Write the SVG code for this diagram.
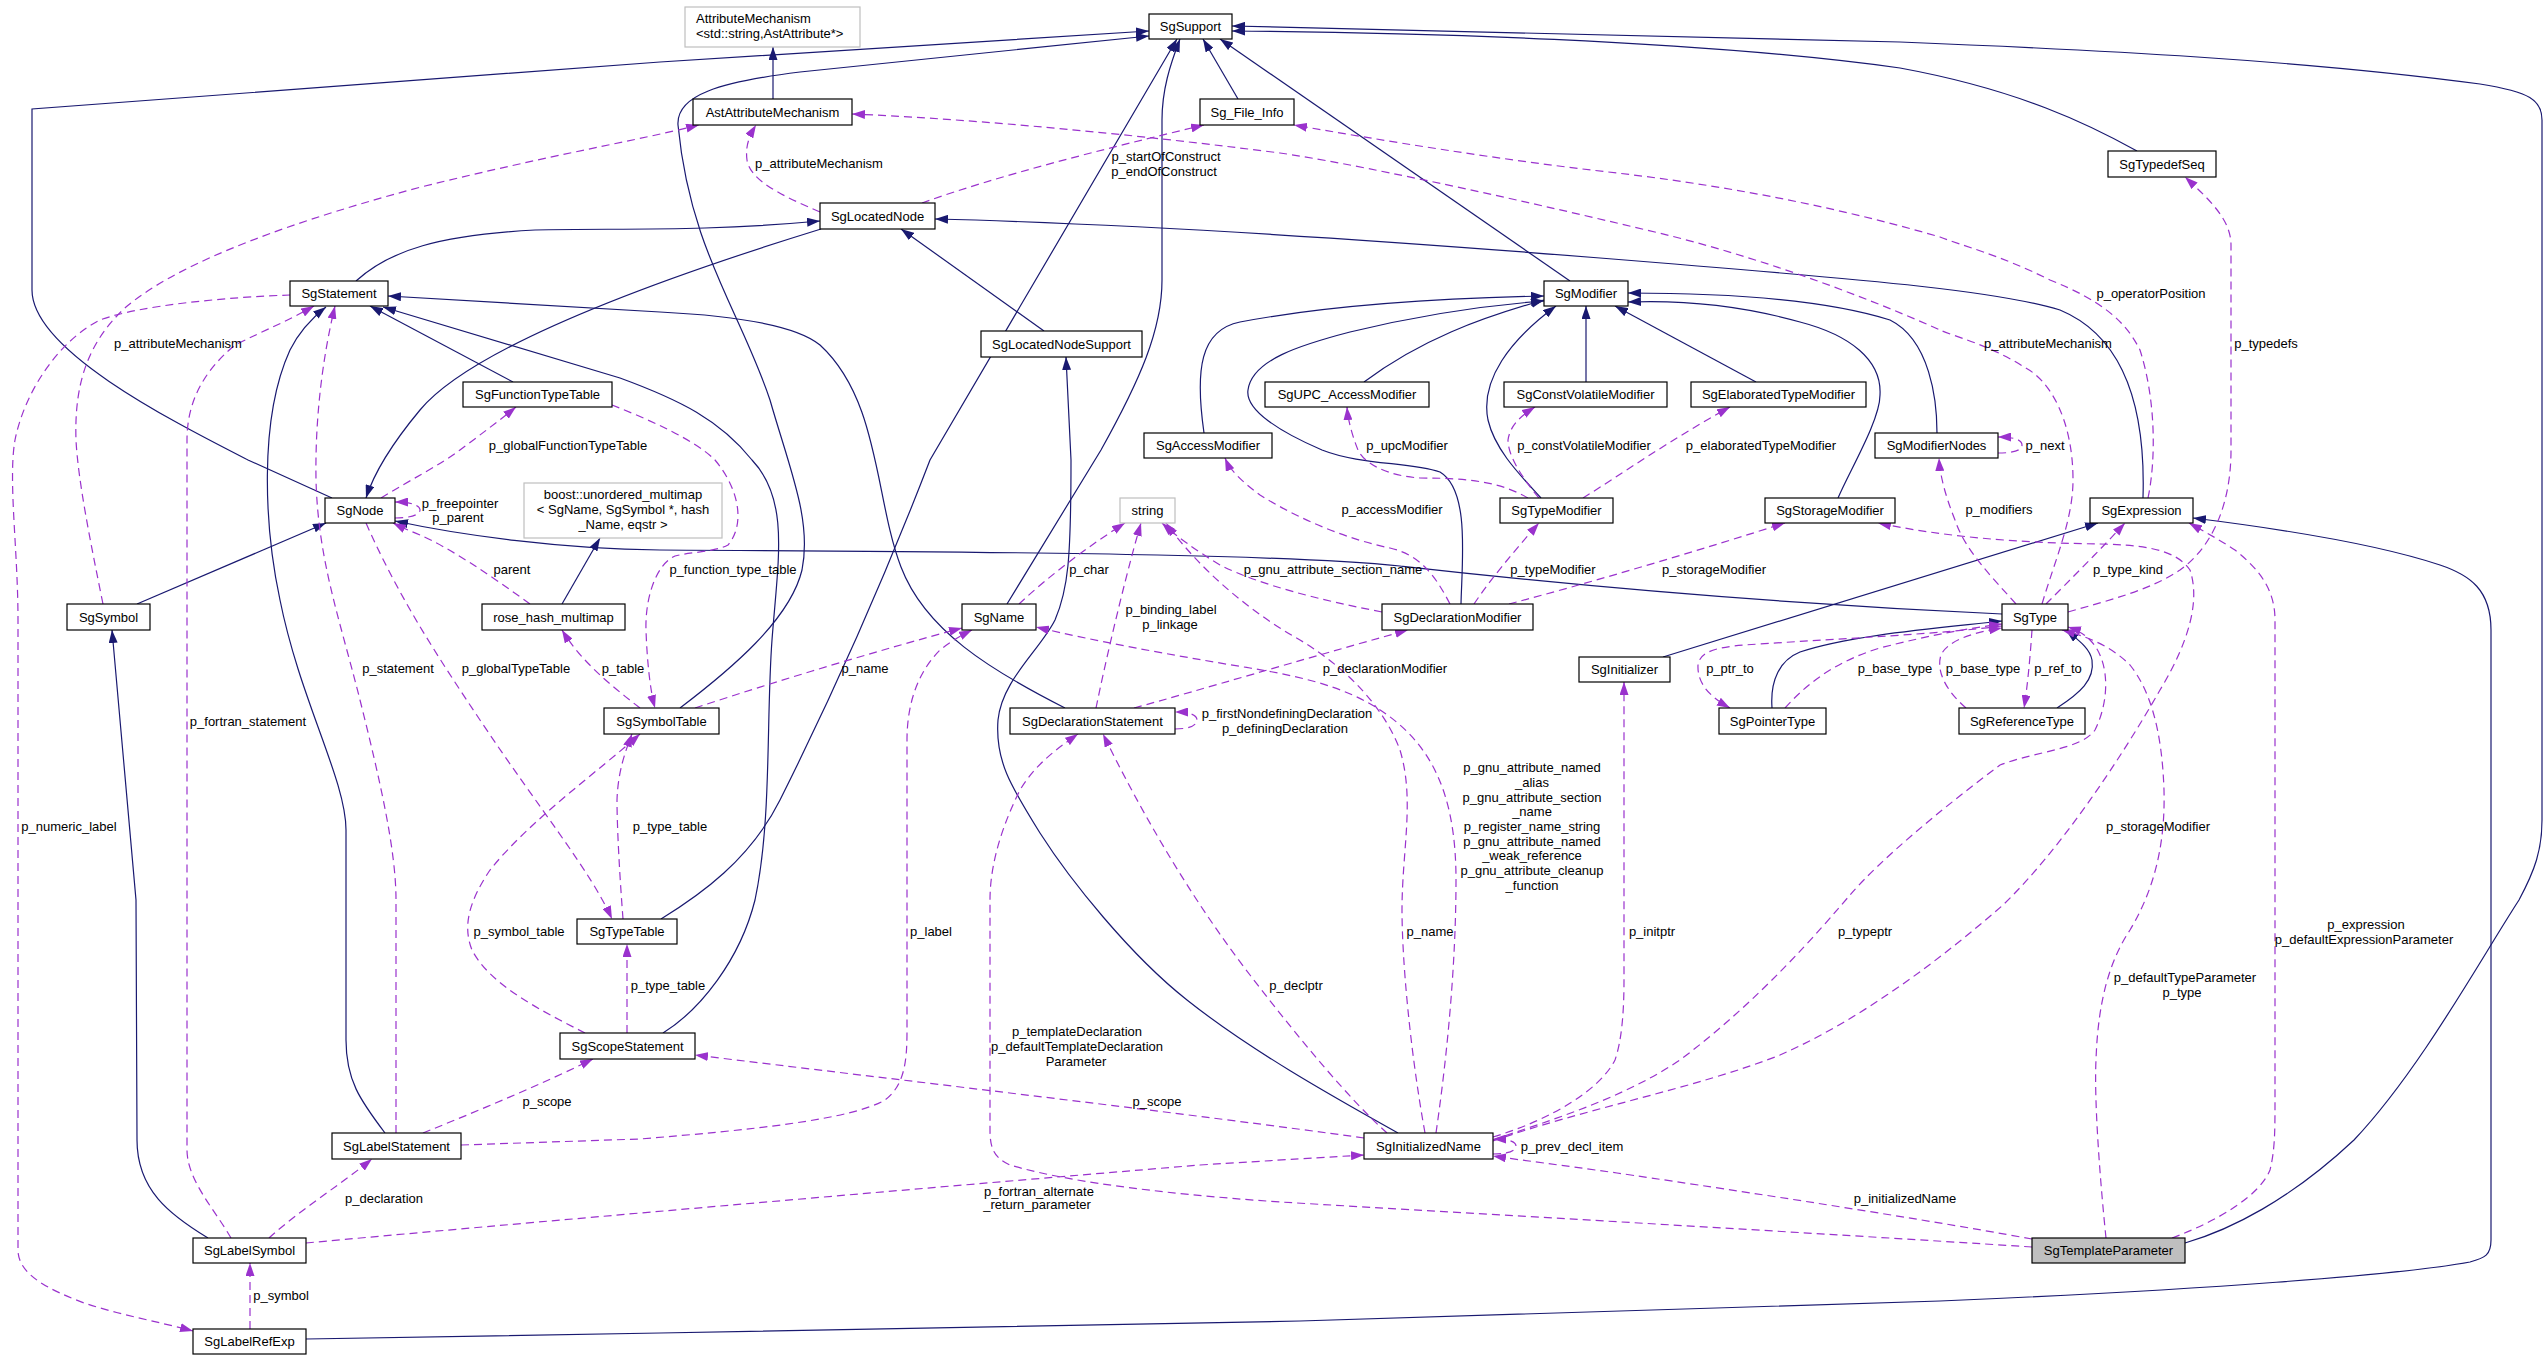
<svg xmlns="http://www.w3.org/2000/svg" width="2547" height="1360" viewBox="0 0 2547 1360">
<style>
text{font-family:"Liberation Sans",Arial,Helvetica,sans-serif;font-size:13px;fill:#000}
.node rect{fill:#fff;stroke:#000;stroke-width:1.2}
.node.ext rect{stroke:#bfbfbf}
.node.cur rect{fill:#bfbfbf}
.node text{text-anchor:middle}
.s{fill:none;stroke:#191970;stroke-width:1.2;marker-end:url(#ab)}
.s0{fill:none;stroke:#191970;stroke-width:1.2}
.d{fill:none;stroke:#9a32cd;stroke-width:1.2;stroke-dasharray:8,5;marker-end:url(#ap)}
.lb text{text-anchor:middle}
</style>
<defs>
<marker id="ab" viewBox="0 0 13 9" refX="13" refY="4.5" markerWidth="13" markerHeight="9" markerUnits="userSpaceOnUse" orient="auto"><path d="M0,0 L13,4.5 L0,9 Z" fill="#191970"/></marker>
<marker id="ap" viewBox="0 0 13 9" refX="13" refY="4.5" markerWidth="13" markerHeight="9" markerUnits="userSpaceOnUse" orient="auto"><path d="M0,0 L13,4.5 L0,9 Z" fill="#9a32cd"/></marker>
</defs>
<rect width="2547" height="1360" fill="#fff"/>
<g id="edges">
<!-- inheritance (solid) -->
<path class="s" d="M332,498 L248,460 C170,420 32,350 32,290 L32,109 L660,62 L1149,31"/>
<path class="s" d="M821,229 C640,285 470,350 420,410 C395,440 375,470 366,498"/>
<path class="s" d="M137,604 L326,523"/>
<path class="s" d="M2002,614 C1700,600 1480,575 1400,566 C1300,556 1100,552 660,550 C560,549 460,535 395,521"/>
<path class="s" d="M356,281 C390,250 440,235 535,230 C620,228 700,232 820,221"/>
<path class="s" d="M2143,498 C2146,400 2120,335 2060,310 C2000,292 1900,282 1600,258 C1300,234 1100,223 935,219"/>
<path class="s" d="M1044,331 L901,229"/>
<path class="s" d="M1398,1133 C1330,1095 1250,1050 1187,1000 C1130,955 1070,880 1040,833 C1010,785 995,760 998,720 C1002,680 1040,650 1055,620 C1068,590 1071,560 1071,460 L1066,357"/>
<path class="s" d="M1065,708 C990,670 925,630 901,567 C875,500 880,400 820,345 C790,320 700,314 660,312 L388,296"/>
<path class="s" d="M663,1033 C700,1010 740,960 755,900 C772,820 766,720 772,640 C778,560 790,500 752,460 C720,420 680,400 620,378 L383,307"/>
<path class="s" d="M513,382 L370,306"/>
<path class="s" d="M385,1133 C360,1100 346,1080 346,1040 L346,830 C346,780 300,700 280,600 C265,530 258,420 290,350 C300,330 312,318 326,307"/>
<path class="s" d="M208,1238 C170,1215 137,1190 137,1140 L136,900 L112,630"/>
<path class="s" d="M773,99 L773,47"/>
<path class="s" d="M680,708 C730,670 790,620 802,570 C812,520 790,470 770,400 C740,310 690,250 678,125 C676,95 720,82 800,72 L1149,36"/>
<path class="s" d="M661,919 C700,895 750,860 780,800 C830,700 880,590 930,460 L1177,39"/>
<path class="s" d="M1007,604 L1101,450 C1140,380 1162,330 1162,280 L1162,120 C1162,90 1170,65 1180,39"/>
<path class="s" d="M1238,99 L1203,39"/>
<path class="s" d="M1570,281 L1220,39"/>
<path class="s" d="M2185,1243 C2230,1230 2290,1200 2354,1140 C2420,1070 2480,960 2519,900 C2535,870 2542,850 2542,820 L2542,120 C2542,100 2530,92 2480,84 C2300,60 2100,50 1900,42 L1232,26"/>
<path class="s" d="M2137,151 C2090,125 2020,90 1900,68 C1700,40 1400,32 1232,31"/>
<path class="s" d="M1204,433 C1195,370 1200,330 1240,322 C1330,305 1450,298 1544,296"/>
<path class="s" d="M1364,382 C1420,340 1480,318 1544,300"/>
<path class="s" d="M1461,604 C1462,560 1470,490 1440,472 C1410,462 1360,465 1322,450 C1280,432 1245,410 1248,390 C1252,360 1300,345 1350,332 C1420,315 1490,305 1544,301"/>
<path class="s" d="M1541,498 C1520,475 1495,450 1488,420 C1480,380 1510,340 1556,306"/>
<path class="s" d="M1586,382 L1586,306"/>
<path class="s" d="M1756,382 L1615,306"/>
<path class="s" d="M1838,498 C1850,470 1880,420 1880,395 C1882,360 1850,335 1800,322 C1740,305 1680,300 1628,302"/>
<path class="s" d="M1937,433 C1937,400 1930,340 1890,320 C1820,298 1720,293 1628,293"/>
<path class="s" d="M1663,657 L2098,523"/>
<path class="s" d="M1772,708 C1770,680 1780,660 1800,652 C1850,635 1940,628 2002,621"/>
<path class="s" d="M2057,708 C2080,693 2095,680 2092,660 C2090,648 2078,640 2066,630"/>
<path class="s" d="M306,1339 L660,1333 L1300,1321 L1940,1301 C2200,1290 2400,1275 2470,1262 C2485,1258 2491,1255 2491,1240 L2491,630 C2491,590 2470,575 2440,565 C2380,545 2290,530 2193,518"/>
<path class="s" d="M562,604 L600,538"/>
<!-- members (dashed) -->
<path class="d" d="M103,604 C90,540 78,480 76,440 C74,380 90,340 126,307 C170,270 260,230 421,187 C550,155 640,140 699,125"/>
<path class="d" d="M290,295 C230,297 140,305 100,320 C60,340 25,390 15,440 C8,480 18,550 18,620 L18,1250 C18,1275 50,1290 84,1303 C120,1315 160,1322 193,1331"/>
<path class="d" d="M231,1238 C215,1210 187,1180 187,1150 L187,440 C187,400 205,370 235,345 C265,330 290,320 314,306"/>
<path class="d" d="M396,1133 L396,900 C396,850 380,780 360,700 C340,620 318,560 316,480 C315,420 322,360 335,306"/>
<path class="d" d="M381,498 C410,480 440,465 460,450 C480,435 500,420 516,407"/>
<path class="d" d="M612,405 C650,420 695,440 715,460 C740,490 745,525 728,545 C715,552 690,552 675,556 C655,565 645,600 646,630 C647,660 650,690 655,708"/>
<path class="d" d="M530,604 C490,575 450,548 420,535 C410,531 401,527 393,523"/>
<path class="d" d="M366,523 C400,600 440,660 480,720 C540,810 590,870 612,919"/>
<path class="d" d="M640,708 C610,685 580,660 562,630"/>
<path class="d" d="M395,518 C410,518 420,515 420,510 C420,505 410,502 395,502"/>
<path class="d" d="M1019,604 C1050,575 1090,545 1125,523"/>
<path class="d" d="M1096,708 C1110,640 1130,560 1141,523"/>
<path class="d" d="M1382,612 C1320,600 1260,585 1220,565 C1195,550 1175,535 1162,523"/>
<path class="d" d="M1425,1133 C1410,1050 1402,960 1402,910 C1402,850 1415,800 1400,750 C1385,710 1350,670 1300,640 C1250,612 1200,570 1166,523"/>
<path class="d" d="M1436,1133 C1448,1050 1456,960 1456,880 C1456,810 1440,760 1400,725 C1360,690 1310,678 1250,668 C1170,655 1090,640 1036,627"/>
<path class="d" d="M695,708 C780,680 880,650 962,628"/>
<path class="d" d="M461,1145 L640,1139 C750,1130 850,1120 885,1100 C905,1085 907,1060 907,1030 L907,740 C907,700 920,670 940,650 C950,642 960,636 972,630"/>
<path class="d" d="M1134,708 C1200,690 1300,660 1408,630"/>
<path class="d" d="M1175,729 C1190,729 1197,725 1197,720 C1197,715 1190,712 1175,712"/>
<path class="d" d="M1450,604 C1435,575 1420,555 1390,548 C1350,540 1300,520 1260,495 C1240,480 1230,470 1225,458"/>
<path class="d" d="M1474,604 C1490,580 1515,550 1539,523"/>
<path class="d" d="M1509,604 C1600,580 1700,550 1785,523"/>
<path class="d" d="M1528,498 C1500,482 1470,478 1420,478 C1390,476 1365,465 1358,450 C1352,435 1348,420 1347,407"/>
<path class="d" d="M1539,498 C1520,475 1508,455 1508,440 C1510,425 1522,415 1535,407"/>
<path class="d" d="M1583,498 C1620,475 1670,440 1730,407"/>
<path class="d" d="M2016,604 C1990,575 1965,550 1955,520 C1945,495 1940,475 1939,458"/>
<path class="d" d="M1998,453 C2015,453 2022,450 2022,445 C2022,440 2015,437 1998,437"/>
<path class="d" d="M2042,604 C2055,560 2073,520 2073,480 C2073,420 2050,380 2024,367 C1990,345 1950,335 1940,330 C1850,290 1750,255 1659,233 C1500,195 1350,163 1280,153 C1100,130 950,118 852,114"/>
<path class="d" d="M2148,498 C2156,460 2156,400 2140,350 C2125,320 2100,300 2050,280 C2000,255 1960,245 1940,237 C1830,205 1720,185 1617,173 C1500,160 1380,140 1294,125"/>
<path class="d" d="M2046,604 C2070,580 2100,550 2125,523"/>
<path class="d" d="M2068,612 C2110,600 2150,590 2180,570 C2215,545 2231,500 2231,450 L2231,245 C2231,220 2210,200 2185,177"/>
<path class="d" d="M2002,626 C1940,634 1850,638 1760,644 C1720,646 1700,650 1698,665 C1697,685 1712,698 1730,708"/>
<path class="d" d="M1785,708 C1810,680 1840,660 1880,648 C1930,635 1970,628 2002,624"/>
<path class="d" d="M1966,708 C1945,690 1936,670 1941,655 C1948,640 1975,632 2002,628"/>
<path class="d" d="M2032,630 C2030,660 2027,690 2024,708"/>
<path class="d" d="M1493,1140 C1550,1120 1620,1100 1680,1060 C1760,1000 1820,930 1850,895 C1880,860 1940,810 2000,765 C2040,750 2080,750 2095,730 C2110,700 2110,660 2090,640 C2085,635 2078,630 2068,627"/>
<path class="d" d="M1493,1141 C1580,1110 1700,1087 1780,1055 C1860,1020 1940,960 2003,905 C2060,850 2120,760 2160,690 C2190,640 2200,600 2190,570 C2175,548 2140,545 2100,544 C2040,543 1960,540 1878,523"/>
<path class="d" d="M2106,1238 C2100,1180 2094,1100 2096,1060 C2098,1000 2110,960 2130,930 C2160,880 2165,830 2164,790 C2162,730 2150,690 2130,665 C2110,645 2085,636 2062,630"/>
<path class="d" d="M2172,1238 C2220,1220 2260,1195 2270,1170 C2275,1150 2275,1130 2275,1100 L2275,620 C2275,590 2260,570 2235,550 C2220,540 2205,532 2189,523"/>
<path class="d" d="M1493,1137 C1550,1120 1600,1090 1615,1060 C1622,1040 1624,1010 1624,980 L1624,682"/>
<path class="d" d="M2032,1239 C1900,1215 1700,1185 1617,1173 C1560,1165 1520,1160 1493,1156"/>
<path class="d" d="M1493,1154 C1510,1154 1516,1150 1516,1146 C1516,1142 1510,1139 1493,1139"/>
<path class="d" d="M2032,1247 C1800,1232 1500,1215 1280,1202 C1150,1193 1060,1180 1010,1165 C995,1158 990,1150 990,1130 L990,900 C990,860 1005,820 1020,790 C1035,765 1055,750 1078,734"/>
<path class="d" d="M1387,1133 C1350,1100 1300,1040 1250,975 C1200,910 1150,830 1103,734"/>
<path class="d" d="M1364,1138 C1200,1115 900,1080 695,1055"/>
<path class="d" d="M306,1243 C500,1225 900,1190 1200,1165 C1280,1160 1330,1157 1364,1155"/>
<path class="d" d="M423,1133 C480,1110 540,1085 593,1059"/>
<path class="d" d="M269,1238 C300,1210 340,1185 372,1159"/>
<path class="d" d="M250,1329 L250,1263"/>
<path class="d" d="M585,1033 C540,1010 490,985 472,950 C462,925 470,900 490,870 C530,820 600,770 640,734"/>
<path class="d" d="M623,919 C620,880 617,830 617,800 C618,770 626,750 632,734"/>
<path class="d" d="M627,1033 L627,944"/>
<path class="d" d="M820,212 C780,195 750,180 747,160 C745,145 750,135 756,125"/>
<path class="d" d="M922,203 C1000,175 1100,150 1204,125"/>
<g class="lb">
<text x="178" y="348">p_attributeMechanism</text>
<text x="819" y="168">p_attributeMechanism</text>
<text x="1166" y="161">p_startOfConstruct</text>
<text x="1164" y="176">p_endOfConstruct</text>
<text x="2151" y="298">p_operatorPosition</text>
<text x="2048" y="348">p_attributeMechanism</text>
<text x="2266" y="348">p_typedefs</text>
<text x="1407" y="450">p_upcModifier</text>
<text x="1584" y="450">p_constVolatileModifier</text>
<text x="1761" y="450">p_elaboratedTypeModifier</text>
<text x="2045" y="450">p_next</text>
<text x="568" y="450">p_globalFunctionTypeTable</text>
<text x="460" y="508">p_freepointer</text>
<text x="458" y="522">p_parent</text>
<text x="1392" y="514">p_accessModifier</text>
<text x="1999" y="514">p_modifiers</text>
<text x="512" y="574">parent</text>
<text x="733" y="574">p_function_type_table</text>
<text x="1089" y="574">p_char</text>
<text x="1333" y="574">p_gnu_attribute_section_name</text>
<text x="1553" y="574">p_typeModifier</text>
<text x="1714" y="574">p_storageModifier</text>
<text x="2128" y="574">p_type_kind</text>
<text x="1171" y="614">p_binding_label</text>
<text x="1170" y="629">p_linkage</text>
<text x="398" y="673">p_statement</text>
<text x="516" y="673">p_globalTypeTable</text>
<text x="623" y="673">p_table</text>
<text x="865" y="673">p_name</text>
<text x="1385" y="673">p_declarationModifier</text>
<text x="1730" y="673">p_ptr_to</text>
<text x="1895" y="673">p_base_type</text>
<text x="1983" y="673">p_base_type</text>
<text x="2058" y="673">p_ref_to</text>
<text x="1287" y="718">p_firstNondefiningDeclaration</text>
<text x="1285" y="733">p_definingDeclaration</text>
<text x="248" y="726">p_fortran_statement</text>
<text x="1532" y="772">p_gnu_attribute_named</text>
<text x="1532" y="787">_alias</text>
<text x="1532" y="802">p_gnu_attribute_section</text>
<text x="1532" y="816">_name</text>
<text x="1532" y="831">p_register_name_string</text>
<text x="1532" y="846">p_gnu_attribute_named</text>
<text x="1532" y="860">_weak_reference</text>
<text x="1532" y="875">p_gnu_attribute_cleanup</text>
<text x="1532" y="890">_function</text>
<text x="69" y="831">p_numeric_label</text>
<text x="670" y="831">p_type_table</text>
<text x="2158" y="831">p_storageModifier</text>
<text x="2366" y="929">p_expression</text>
<text x="2364" y="944">p_defaultExpressionParameter</text>
<text x="519" y="936">p_symbol_table</text>
<text x="931" y="936">p_label</text>
<text x="1430" y="936">p_name</text>
<text x="1652" y="936">p_initptr</text>
<text x="1865" y="936">p_typeptr</text>
<text x="2185" y="982">p_defaultTypeParameter</text>
<text x="2182" y="997">p_type</text>
<text x="668" y="990">p_type_table</text>
<text x="1296" y="990">p_declptr</text>
<text x="1077" y="1036">p_templateDeclaration</text>
<text x="1077" y="1051">p_defaultTemplateDeclaration</text>
<text x="1076" y="1066">Parameter</text>
<text x="547" y="1106">p_scope</text>
<text x="1157" y="1106">p_scope</text>
<text x="1572" y="1151">p_prev_decl_item</text>
<text x="1039" y="1196">p_fortran_alternate</text>
<text x="1037" y="1209">_return_parameter</text>
<text x="384" y="1203">p_declaration</text>
<text x="1905" y="1203">p_initializedName</text>
<text x="281" y="1300">p_symbol</text>
</g>
</g>
<g id="node-AttributeMechanism" class="node ext"><rect x="685" y="7" width="175" height="40"/><text x="696" y="23" style="text-anchor:start">AttributeMechanism</text><text x="696" y="38" style="text-anchor:start">&lt;std::string,AstAttribute*&gt;</text></g>
<g id="node-SgSupport" class="node"><rect x="1149" y="14" width="83" height="25"/><text x="1190.5" y="31">SgSupport</text></g>
<g id="node-AstAttributeMechanism" class="node"><rect x="693" y="99" width="159" height="26"/><text x="772.5" y="116.5">AstAttributeMechanism</text></g>
<g id="node-Sg_File_Info" class="node"><rect x="1200" y="99" width="94" height="26"/><text x="1247" y="116.5">Sg_File_Info</text></g>
<g id="node-SgLocatedNode" class="node"><rect x="820" y="203" width="115" height="26"/><text x="877.5" y="220.5">SgLocatedNode</text></g>
<g id="node-SgStatement" class="node"><rect x="290" y="281" width="98" height="25"/><text x="339" y="298">SgStatement</text></g>
<g id="node-SgModifier" class="node"><rect x="1544" y="281" width="84" height="25"/><text x="1586" y="298">SgModifier</text></g>
<g id="node-SgTypedefSeq" class="node"><rect x="2108" y="151" width="108" height="26"/><text x="2162" y="168.5">SgTypedefSeq</text></g>
<g id="node-SgLocatedNodeSupport" class="node"><rect x="981" y="331" width="161" height="26"/><text x="1061.5" y="348.5">SgLocatedNodeSupport</text></g>
<g id="node-SgFunctionTypeTable" class="node"><rect x="463" y="382" width="149" height="25"/><text x="537.5" y="399">SgFunctionTypeTable</text></g>
<g id="node-SgUPC_AccessModifier" class="node"><rect x="1265" y="382" width="164" height="25"/><text x="1347" y="399">SgUPC_AccessModifier</text></g>
<g id="node-SgConstVolatileModifier" class="node"><rect x="1504" y="382" width="163" height="25"/><text x="1585.5" y="399">SgConstVolatileModifier</text></g>
<g id="node-SgElaboratedTypeModifier" class="node"><rect x="1691" y="382" width="175" height="25"/><text x="1778.5" y="399">SgElaboratedTypeModifier</text></g>
<g id="node-SgAccessModifier" class="node"><rect x="1144" y="433" width="128" height="25"/><text x="1208" y="450">SgAccessModifier</text></g>
<g id="node-SgModifierNodes" class="node"><rect x="1875" y="433" width="123" height="25"/><text x="1936.5" y="450">SgModifierNodes</text></g>
<g id="node-SgNode" class="node"><rect x="325" y="498" width="70" height="25"/><text x="360" y="515">SgNode</text></g>
<g id="node-boost_unordered_multimap" class="node ext"><rect x="524" y="483" width="198" height="55"/><text x="623" y="499">boost::unordered_multimap</text><text x="623" y="514">&lt; SgName, SgSymbol *, hash</text><text x="623" y="529">_Name, eqstr &gt;</text></g>
<g id="node-string" class="node ext"><rect x="1120" y="498" width="55" height="25"/><text x="1147.5" y="515">string</text></g>
<g id="node-SgTypeModifier" class="node"><rect x="1500" y="498" width="113" height="25"/><text x="1556.5" y="515">SgTypeModifier</text></g>
<g id="node-SgStorageModifier" class="node"><rect x="1765" y="498" width="130" height="25"/><text x="1830" y="515">SgStorageModifier</text></g>
<g id="node-SgExpression" class="node"><rect x="2090" y="498" width="103" height="25"/><text x="2141.5" y="515">SgExpression</text></g>
<g id="node-SgSymbol" class="node"><rect x="67" y="604" width="83" height="26"/><text x="108.5" y="621.5">SgSymbol</text></g>
<g id="node-rose_hash_multimap" class="node"><rect x="482" y="604" width="143" height="26"/><text x="553.5" y="621.5">rose_hash_multimap</text></g>
<g id="node-SgName" class="node"><rect x="962" y="604" width="74" height="26"/><text x="999" y="621.5">SgName</text></g>
<g id="node-SgDeclarationModifier" class="node"><rect x="1382" y="604" width="151" height="26"/><text x="1457.5" y="621.5">SgDeclarationModifier</text></g>
<g id="node-SgType" class="node"><rect x="2002" y="604" width="66" height="26"/><text x="2035" y="621.5">SgType</text></g>
<g id="node-SgInitializer" class="node"><rect x="1579" y="657" width="91" height="25"/><text x="1624.5" y="674">SgInitializer</text></g>
<g id="node-SgSymbolTable" class="node"><rect x="604" y="708" width="115" height="26"/><text x="661.5" y="725.5">SgSymbolTable</text></g>
<g id="node-SgDeclarationStatement" class="node"><rect x="1010" y="708" width="165" height="26"/><text x="1092.5" y="725.5">SgDeclarationStatement</text></g>
<g id="node-SgPointerType" class="node"><rect x="1719" y="708" width="107" height="26"/><text x="1772.5" y="725.5">SgPointerType</text></g>
<g id="node-SgReferenceType" class="node"><rect x="1959" y="708" width="126" height="26"/><text x="2022" y="725.5">SgReferenceType</text></g>
<g id="node-SgTypeTable" class="node"><rect x="577" y="919" width="100" height="25"/><text x="627" y="936">SgTypeTable</text></g>
<g id="node-SgScopeStatement" class="node"><rect x="560" y="1033" width="135" height="26"/><text x="627.5" y="1050.5">SgScopeStatement</text></g>
<g id="node-SgLabelStatement" class="node"><rect x="332" y="1133" width="129" height="26"/><text x="396.5" y="1150.5">SgLabelStatement</text></g>
<g id="node-SgInitializedName" class="node"><rect x="1364" y="1133" width="129" height="26"/><text x="1428.5" y="1150.5">SgInitializedName</text></g>
<g id="node-SgLabelSymbol" class="node"><rect x="193" y="1238" width="113" height="25"/><text x="249.5" y="1255">SgLabelSymbol</text></g>
<g id="node-SgTemplateParameter" class="node cur"><rect x="2032" y="1238" width="153" height="25"/><text x="2108.5" y="1255">SgTemplateParameter</text></g>
<g id="node-SgLabelRefExp" class="node"><rect x="193" y="1329" width="113" height="25"/><text x="249.5" y="1346">SgLabelRefExp</text></g>
</svg>
